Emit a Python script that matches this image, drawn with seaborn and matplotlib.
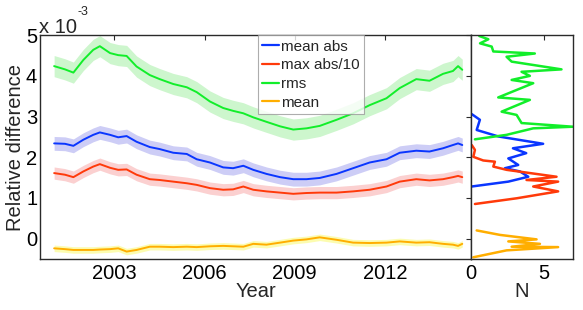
import numpy as np
import pandas as pd
import matplotlib
matplotlib.use("Agg")
import matplotlib.pyplot as plt
import seaborn as sns

years = [2001.00, 2001.36, 2001.64, 2001.97, 2002.30, 2002.52, 2002.86, 2003.13, 2003.41, 2003.74,
         2004.18, 2004.51, 2004.96, 2005.41, 2005.74, 2006.18, 2006.62, 2006.95, 2007.29, 2007.62,
         2008.06, 2008.51, 2008.95, 2009.39, 2009.83, 2010.39, 2010.94, 2011.49, 2012.05, 2012.49,
         2013.04, 2013.48, 2013.93, 2014.26, 2014.43, 2014.57]

mean_abs = [2.34, 2.33, 2.28, 2.43, 2.55, 2.61, 2.55, 2.49, 2.52, 2.38, 2.25, 2.20, 2.11, 2.08, 1.95, 1.87,
            1.75, 1.73, 1.79, 1.69, 1.59, 1.51, 1.46, 1.46, 1.49, 1.59, 1.73, 1.87, 1.95, 2.11, 2.16, 2.14,
            2.22, 2.30, 2.34, 2.30]
max_abs10 = [1.61, 1.57, 1.51, 1.65, 1.77, 1.83, 1.74, 1.69, 1.70, 1.57, 1.46, 1.44, 1.40, 1.36, 1.32, 1.24,
             1.20, 1.21, 1.28, 1.20, 1.16, 1.13, 1.10, 1.12, 1.13, 1.13, 1.16, 1.20, 1.28, 1.40, 1.46, 1.43,
             1.46, 1.51, 1.54, 1.51]
rms = [4.24, 4.16, 4.08, 4.39, 4.64, 4.73, 4.56, 4.51, 4.49, 4.23, 4.02, 3.92, 3.80, 3.72, 3.60, 3.37,
       3.21, 3.14, 3.08, 2.98, 2.87, 2.76, 2.68, 2.71, 2.77, 2.92, 3.08, 3.28, 3.45, 3.70, 3.92, 3.88,
       4.05, 4.12, 4.24, 4.15]
mean = [-0.24, -0.26, -0.28, -0.28, -0.28, -0.27, -0.26, -0.24, -0.32, -0.28, -0.20, -0.20, -0.21, -0.20,
        -0.21, -0.19, -0.18, -0.19, -0.20, -0.13, -0.15, -0.10, -0.05, -0.02, 0.03, -0.03, -0.10, -0.11,
        -0.10, -0.07, -0.10, -0.09, -0.13, -0.15, -0.18, -0.13]

series_names = ["mean abs", "max abs/10", "rms", "mean"]
band_halfwidth = [0.17, 0.15, 0.26, 0.08]

# side panel: distributions (N vs value)
rms_dist_N = [0.57, 1.19, 0.62, 1.42, 1.53, 4.38, 2.44, 2.79, 6.21, 3.47, 4.04, 2.79, 4.27, 1.87, 4.04,
              2.10, 3.13, 3.47, 7.0, 4.27, 2.44, 0.27]
rms_dist_v = [4.98, 4.90, 4.80, 4.72, 4.60, 4.55, 4.47, 4.35, 4.16, 4.10, 4.00, 3.90, 3.82, 3.47, 3.41,
              3.12, 3.04, 2.84, 2.75, 2.71, 2.55, 2.44]
mabs_dist_N = [0.05, 0.61, 0.39, 1.88, 4.95, 2.88, 3.79, 2.56, 3.24, 2.33, 3.36, 3.93, 2.56, 0.05]
mabs_dist_v = [3.06, 2.92, 2.67, 2.51, 2.33, 2.22, 2.10, 1.97, 1.81, 1.73, 1.65, 1.52, 1.40, 1.28]
max_dist_N = [0.05, 0.27, 0.16, 0.84, 1.64, 1.53, 2.44, 5.87, 3.81, 5.98, 4.27, 5.98, 3.13, 0.27]
max_dist_v = [2.30, 2.18, 2.01, 1.92, 1.89, 1.77, 1.69, 1.52, 1.44, 1.40, 1.28, 1.16, 0.99, 0.85]
mean_dist_N = [0.39, 1.99, 4.50, 2.56, 4.73, 2.79, 5.98, 2.44, 0.16]
mean_dist_v = [0.20, 0.09, -0.02, -0.07, -0.13, -0.20, -0.21, -0.29, -0.46]

line_colors = ["#0a36ff", "#ff3a0a", "#12ee2a", "#ffae00"]
band_colors = ["#cdcdf6", "#fbd0d0", "#cdf6cd", "#fcfcb0"]

sns.set_theme(style="white")
plt.rcParams["font.family"] = ["Liberation Sans", "DejaVu Sans"]
plt.rcParams["axes.edgecolor"] = "#2a2a2a"
plt.rcParams["axes.linewidth"] = 1.0

fig = plt.figure(figsize=(5.83, 3.10), dpi=100)
ax = fig.add_axes([40 / 583, 1 - 258.9 / 310, 431 / 583, 223.7 / 310])
axs = fig.add_axes([471 / 583, 1 - 258.9 / 310, 102 / 583, 223.7 / 310])

df = pd.DataFrame({"year": years, "mean abs": mean_abs, "max abs/10": max_abs10,
                   "rms": rms, "mean": mean})
long = df.melt(id_vars="year", var_name="series", value_name="value")

for name, hw, bc in zip(series_names, band_halfwidth, band_colors):
    v = np.asarray(df[name])
    ax.fill_between(df["year"], v - hw, v + hw, color=bc, lw=0, zorder=1)

sns.lineplot(data=long, x="year", y="value", hue="series", hue_order=series_names,
             palette=line_colors, lw=1.4, ax=ax, estimator=None, zorder=3)

ax.set_xlim(2000.53, 2014.86)
ax.set_ylim(-0.5, 5.0)
ax.set_xticks([2003, 2006, 2009, 2012])
ax.set_yticks([0, 1, 2, 3, 4, 5])
ax.set_xlabel("Year", fontsize=14.5, labelpad=-1)
ax.set_ylabel("Relative difference", fontsize=14.5, labelpad=1)
ax.tick_params(direction="in", length=3.5, width=0.8, top=True, right=True,
               labelsize=14.5, colors="#2a2a2a", labelcolor="black", pad=4)
ax.tick_params(axis="y", pad=2)
leg = ax.legend(loc="upper left", bbox_to_anchor=(0.505, 1.0), fontsize=11, frameon=True,
                fancybox=False, edgecolor="#999999", handlelength=1.1, handletextpad=0.1,
                labelspacing=0.3, borderpad=0.3, borderaxespad=0)
leg.get_frame().set_linewidth(0.8)
for l in leg.get_lines():
    l.set_linewidth(1.6)

fig.text(39 / 583, 1 - 33 / 310, "x 10", fontsize=14.5, ha="left", va="baseline")
fig.text(78 / 583, 1 - 15 / 310, "-3", fontsize=9, ha="left", va="baseline")

dists = [(mabs_dist_N, mabs_dist_v), (max_dist_N, max_dist_v), (rms_dist_N, rms_dist_v),
         (mean_dist_N, mean_dist_v)]
for (n, v), c in zip(dists, line_colors):
    sns.lineplot(x=n, y=v, sort=False, estimator=None, color=c, lw=1.8, ax=axs)

axs.set_xlim(0, 7)
axs.set_ylim(-0.5, 5.0)
axs.set_xticks([0, 5])
axs.set_yticks([])
axs.set_xlabel("N", fontsize=14.5, labelpad=-1)
axs.tick_params(direction="in", length=3.5, width=0.8, top=True, labelsize=14.5,
                colors="#2a2a2a", labelcolor="black", pad=4)

fig.savefig("out.png", dpi=100)
